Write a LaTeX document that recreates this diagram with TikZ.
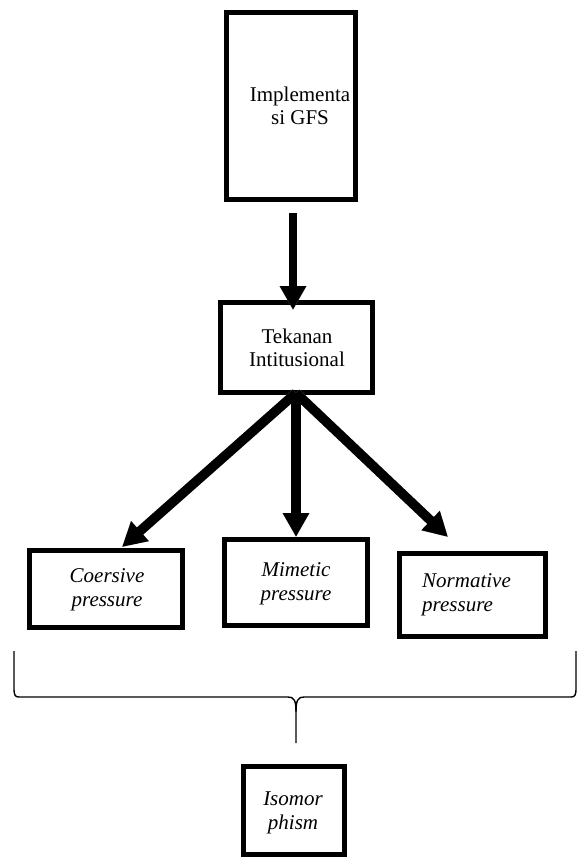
\documentclass[tikz,border=0pt]{standalone}
\usepackage{fontspec}
\setmainfont{Liberation Serif}
\usetikzlibrary{arrows.meta}
\begin{document}
\begin{tikzpicture}[x=1pt,y=-1pt,
  box/.style={draw=black,line width=5pt,rectangle,inner sep=0pt,fill=white},
  lbl/.style={align=center,inner sep=0pt,font=\fontsize{21}{23.5}\selectfont},
  arr/.style={line width=8pt,-{Triangle[width=25pt,length=24pt]}},
  shadowarr/.style={line width=8pt,draw=black!35,-{Triangle[width=25pt,length=24pt]}},
  brace/.style={line width=1.4pt,line join=round}]
\useasboundingbox (0,0) rectangle (582,859);
% boxes
\node[box,minimum width=129pt,minimum height=187pt] (A) at (291,106) {};
\node[box,minimum width=152pt,minimum height=90pt] (B) at (296.5,347.5) {};
\node[box,minimum width=153pt,minimum height=77pt] (C) at (106,589) {};
\node[box,minimum width=143pt,minimum height=86pt] (M) at (296,582.5) {};
\node[box,minimum width=146pt,minimum height=83pt] (N) at (472.5,595) {};
\node[box,minimum width=101pt,minimum height=88pt] (I) at (294,810.5) {};
% labels
\node[lbl] (tA) at (300,106) {Implementa\\si GFS};
\node[lbl] (tB) at (297,348) {Tekanan\\Intitusional};
\node[lbl] (tC) at (107,590) {\itshape Coersive\\\itshape pressure};
\node[lbl] (tM) at (296,584) {\itshape Mimetic\\\itshape pressure};
\node[lbl,align=left,anchor=west] (tN) at (422,595) {\itshape Normative\\\itshape pressure};
\node[lbl] (tI) at (293,813) {\itshape Isomor\\\itshape phism};
% arrow end points
\coordinate (a1s) at (293,213);
\coordinate (a1e) at (293,310);
\coordinate (bo) at (296,393);
\coordinate (ct) at (122,547);
\coordinate (nt) at (448,537);
% shadows
\begin{scope}[xshift=2pt,yshift=-2pt]
\draw[shadowarr] (a1s) -- (a1e);
\draw[shadowarr,line width=9.5pt] (bo) -- (ct);
\draw[shadowarr,line width=9.5pt] (bo) -- (M.north);
\draw[shadowarr,line width=9.5pt] (bo) -- (nt);
\end{scope}
% arrows
\draw[arr] (a1s) -- (a1e);
\draw[arr,line width=9.5pt] (bo) -- (ct);
\draw[arr,line width=9.5pt] (bo) -- (M.north);
\draw[arr,line width=9.5pt] (bo) -- (nt);
% brace
\coordinate (bl) at (14,651);
\coordinate (br) at (576,651);
\coordinate (bt) at (296,743);
\draw[brace] (bl) -- (14,688) .. controls (14,695) and (15,697) .. (19,697) -- (288,697) .. controls (294,697) and (296,700) .. (296,712) -- (bt);
\draw[brace] (br) -- (576,688) .. controls (576,695) and (575,697) .. (571,697) -- (304,697) .. controls (298,697) and (296,700) .. (296,712);
\end{tikzpicture}
\end{document}
